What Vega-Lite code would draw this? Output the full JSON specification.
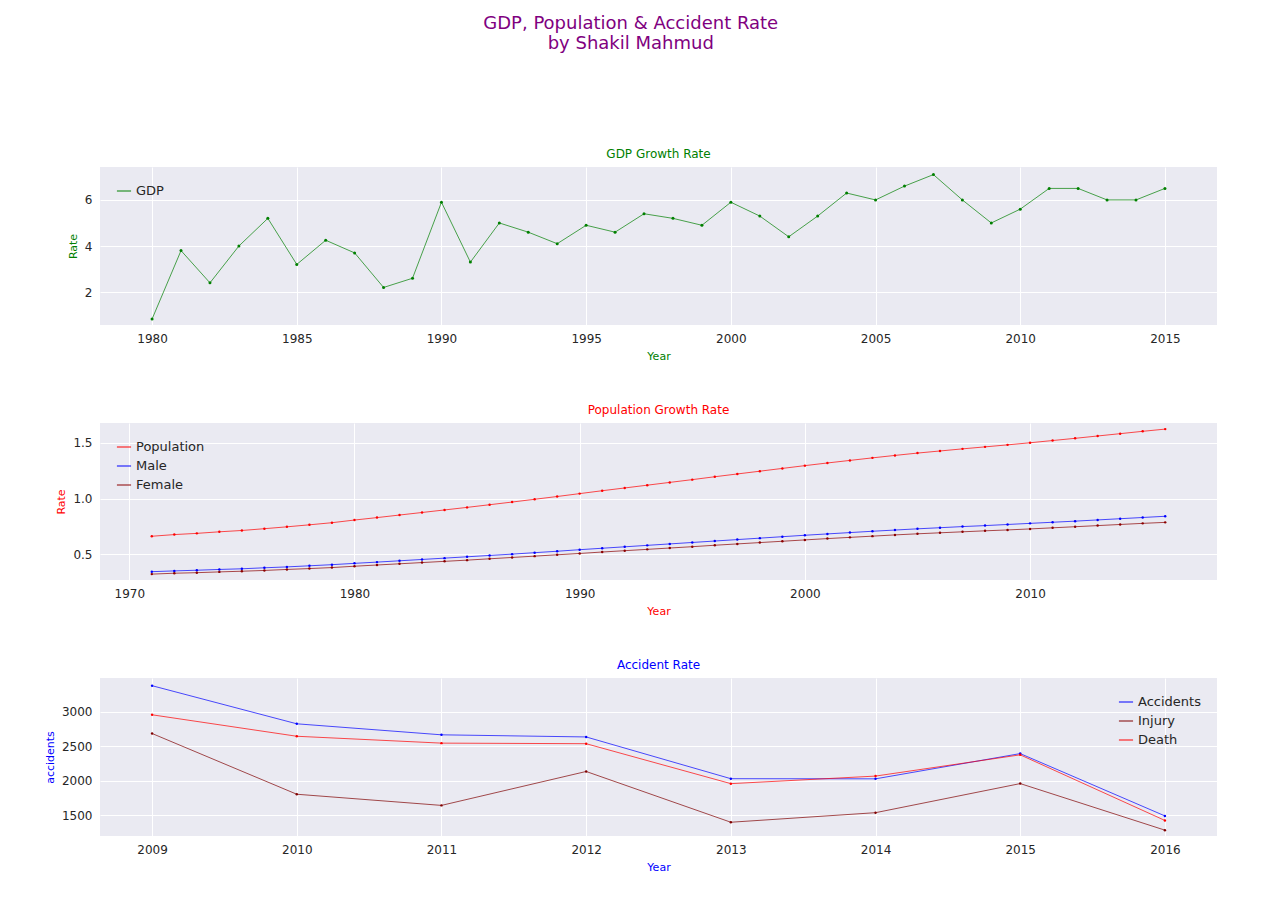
{
  "$schema": "https://vega.github.io/schema/vega-lite/v6.json",
  "padding": {"left": 44, "top": 15, "right": 60, "bottom": 10},
  "background": "white",
  "title": {"text": ["GDP, Population & Accident Rate", "by Shakil Mahmud"], "color": "purple", "fontSize": 18, "fontWeight": "normal", "font": "DejaVu Sans", "offset": 95, "anchor": "middle"},
  "datasets": {
    "gdp": [
      {"year": 1980, "rate": 0.83}, {"year": 1981, "rate": 3.8}, {"year": 1982, "rate": 2.4}, {"year": 1983, "rate": 4.0},
      {"year": 1984, "rate": 5.2}, {"year": 1985, "rate": 3.2}, {"year": 1986, "rate": 4.25}, {"year": 1987, "rate": 3.7},
      {"year": 1988, "rate": 2.2}, {"year": 1989, "rate": 2.6}, {"year": 1990, "rate": 5.9}, {"year": 1991, "rate": 3.3},
      {"year": 1992, "rate": 5.0}, {"year": 1993, "rate": 4.6}, {"year": 1994, "rate": 4.1}, {"year": 1995, "rate": 4.9},
      {"year": 1996, "rate": 4.6}, {"year": 1997, "rate": 5.4}, {"year": 1998, "rate": 5.2}, {"year": 1999, "rate": 4.9},
      {"year": 2000, "rate": 5.9}, {"year": 2001, "rate": 5.3}, {"year": 2002, "rate": 4.4}, {"year": 2003, "rate": 5.3},
      {"year": 2004, "rate": 6.3}, {"year": 2005, "rate": 6.0}, {"year": 2006, "rate": 6.6}, {"year": 2007, "rate": 7.1},
      {"year": 2008, "rate": 6.0}, {"year": 2009, "rate": 5.0}, {"year": 2010, "rate": 5.6}, {"year": 2011, "rate": 6.5},
      {"year": 2012, "rate": 6.5}, {"year": 2013, "rate": 6.0}, {"year": 2014, "rate": 6.0}, {"year": 2015, "rate": 6.5}
    ],
    "pop": [
      {"year": 1971, "Population": 66.0, "Male": 34.1, "Female": 31.9},
      {"year": 1972, "Population": 67.5, "Male": 34.8, "Female": 32.7},
      {"year": 1973, "Population": 68.6, "Male": 35.4, "Female": 33.2},
      {"year": 1974, "Population": 70.0, "Male": 36.1, "Female": 33.9},
      {"year": 1975, "Population": 71.2, "Male": 36.7, "Female": 34.5},
      {"year": 1976, "Population": 72.8, "Male": 37.6, "Female": 35.2},
      {"year": 1977, "Population": 74.5, "Male": 38.4, "Female": 36.1},
      {"year": 1978, "Population": 76.3, "Male": 39.4, "Female": 36.9},
      {"year": 1979, "Population": 78.2, "Male": 40.4, "Female": 37.8},
      {"year": 1980, "Population": 80.6, "Male": 41.6, "Female": 39.0},
      {"year": 1981, "Population": 82.8, "Male": 42.7, "Female": 40.1},
      {"year": 1982, "Population": 85.1, "Male": 43.9, "Female": 41.2},
      {"year": 1983, "Population": 87.4, "Male": 45.1, "Female": 42.3},
      {"year": 1984, "Population": 89.7, "Male": 46.3, "Female": 43.4},
      {"year": 1985, "Population": 92.0, "Male": 47.5, "Female": 44.5},
      {"year": 1986, "Population": 94.4, "Male": 48.7, "Female": 45.7},
      {"year": 1987, "Population": 96.8, "Male": 49.9, "Female": 46.9},
      {"year": 1988, "Population": 99.3, "Male": 51.2, "Female": 48.1},
      {"year": 1989, "Population": 101.8, "Male": 52.5, "Female": 49.3},
      {"year": 1990, "Population": 104.4, "Male": 53.9, "Female": 50.5},
      {"year": 1991, "Population": 107.0, "Male": 55.2, "Female": 51.8},
      {"year": 1992, "Population": 109.5, "Male": 56.5, "Female": 53.0},
      {"year": 1993, "Population": 112.0, "Male": 57.8, "Female": 54.2},
      {"year": 1994, "Population": 114.5, "Male": 59.1, "Female": 55.4},
      {"year": 1995, "Population": 117.0, "Male": 60.4, "Female": 56.6},
      {"year": 1996, "Population": 119.6, "Male": 61.7, "Female": 57.9},
      {"year": 1997, "Population": 122.1, "Male": 63.0, "Female": 59.1},
      {"year": 1998, "Population": 124.6, "Male": 64.3, "Female": 60.3},
      {"year": 1999, "Population": 127.1, "Male": 65.6, "Female": 61.5},
      {"year": 2000, "Population": 129.6, "Male": 66.9, "Female": 62.7},
      {"year": 2001, "Population": 132.0, "Male": 68.1, "Female": 63.9},
      {"year": 2002, "Population": 134.3, "Male": 69.3, "Female": 65.0},
      {"year": 2003, "Population": 136.6, "Male": 70.5, "Female": 66.1},
      {"year": 2004, "Population": 138.8, "Male": 71.6, "Female": 67.2},
      {"year": 2005, "Population": 140.9, "Male": 72.7, "Female": 68.2},
      {"year": 2006, "Population": 142.8, "Male": 73.7, "Female": 69.1},
      {"year": 2007, "Population": 144.7, "Male": 74.7, "Female": 70.0},
      {"year": 2008, "Population": 146.5, "Male": 75.6, "Female": 70.9},
      {"year": 2009, "Population": 148.3, "Male": 76.6, "Female": 71.7},
      {"year": 2010, "Population": 150.2, "Male": 77.6, "Female": 72.6},
      {"year": 2011, "Population": 152.2, "Male": 78.6, "Female": 73.6},
      {"year": 2012, "Population": 154.2, "Male": 79.6, "Female": 74.6},
      {"year": 2013, "Population": 156.3, "Male": 80.7, "Female": 75.6},
      {"year": 2014, "Population": 158.4, "Male": 81.8, "Female": 76.6},
      {"year": 2015, "Population": 160.5, "Male": 82.9, "Female": 77.6},
      {"year": 2016, "Population": 162.5, "Male": 84.0, "Female": 78.5}
    ],
    "acc": [
      {"year": 2009, "Accidents": 3381, "Injury": 2686, "Death": 2958},
      {"year": 2010, "Accidents": 2827, "Injury": 1803, "Death": 2646},
      {"year": 2011, "Accidents": 2667, "Injury": 1641, "Death": 2546},
      {"year": 2012, "Accidents": 2636, "Injury": 2134, "Death": 2538},
      {"year": 2013, "Accidents": 2029, "Injury": 1396, "Death": 1957},
      {"year": 2014, "Accidents": 2027, "Injury": 1535, "Death": 2067},
      {"year": 2015, "Accidents": 2394, "Injury": 1958, "Death": 2376},
      {"year": 2016, "Accidents": 1488, "Injury": 1281, "Death": 1422}
    ]
  },
  "vconcat": [
    {
      "title": {"text": "GDP Growth Rate", "color": "green"},
      "width": 1117, "height": 158,
      "data": {"name": "gdp"},
      "transform": [{"calculate": "'GDP'", "as": "series"}],
      "mark": {"type": "line", "strokeWidth": 0.7, "point": {"size": 9, "filled": true}},
      "encoding": {
        "x": {"field": "year", "type": "quantitative", "scale": {"domain": [1978.2, 2016.8], "nice": false, "zero": false}, "axis": {"values": [1980, 1985, 1990, 1995, 2000, 2005, 2010, 2015], "format": "d", "title": "Year", "titleColor": "green"}},
        "y": {"field": "rate", "type": "quantitative", "scale": {"domain": [0.57, 7.43], "nice": false}, "axis": {"values": [2, 4, 6], "title": "Rate", "titleColor": "green"}},
        "color": {"field": "series", "type": "nominal", "scale": {"range": ["green"]}, "legend": {"orient": "top-left", "title": null}}
      }
    },
    {
      "title": {"text": "Population Growth Rate", "color": "red"},
      "width": 1117, "height": 157,
      "data": {"name": "pop"},
      "transform": [{"fold": ["Population", "Male", "Female"], "as": ["series", "value"]}],
      "mark": {"type": "line", "strokeWidth": 0.7, "point": {"size": 6, "filled": true}},
      "encoding": {
        "x": {"field": "year", "type": "quantitative", "scale": {"domain": [1968.7, 2018.3], "nice": false, "zero": false}, "axis": {"values": [1970, 1980, 1990, 2000, 2010], "format": "d", "title": "Year", "titleColor": "red"}},
        "y": {"field": "value", "type": "quantitative", "scale": {"domain": [26.6, 168], "nice": false}, "axis": {"values": [50, 100, 150], "labelExpr": "format(datum.value / 100, '.1f')", "title": "Rate", "titleColor": "red"}},
        "color": {"field": "series", "type": "nominal", "sort": ["Population", "Male", "Female"], "scale": {"domain": ["Population", "Male", "Female"], "range": ["red", "blue", "#8B0000"]}, "legend": {"orient": "top-left", "title": null}}
      }
    },
    {
      "title": {"text": "Accident Rate", "color": "blue"},
      "width": 1117, "height": 158,
      "data": {"name": "acc"},
      "transform": [{"fold": ["Accidents", "Injury", "Death"], "as": ["series", "value"]}],
      "mark": {"type": "line", "strokeWidth": 0.7, "point": {"size": 6, "filled": true}},
      "encoding": {
        "x": {"field": "year", "type": "quantitative", "scale": {"domain": [2008.64, 2016.36], "nice": false, "zero": false}, "axis": {"values": [2009, 2010, 2011, 2012, 2013, 2014, 2015, 2016], "format": "d", "title": "Year", "titleColor": "blue"}},
        "y": {"field": "value", "type": "quantitative", "scale": {"domain": [1196, 3493], "nice": false, "zero": false}, "axis": {"values": [1500, 2000, 2500, 3000], "format": "d", "title": "accidents", "titleColor": "blue"}},
        "color": {"field": "series", "type": "nominal", "sort": ["Accidents", "Injury", "Death"], "scale": {"domain": ["Accidents", "Injury", "Death"], "range": ["blue", "#800000", "red"]}, "legend": {"orient": "top-right", "title": null}}
      }
    }
  ],
  "spacing": 43,
  "resolve": {"scale": {"color": "independent"}, "legend": {"color": "independent"}},
  "config": {
    "font": "DejaVu Sans",
    "view": {"fill": "#EAEAF2", "stroke": null},
    "title": {"fontSize": 12, "fontWeight": "normal", "offset": 6},
    "axis": {"grid": true, "gridColor": "white", "gridWidth": 1, "domain": false, "ticks": false, "labelColor": "#262626", "labelFontSize": 12, "labelPadding": 8, "titleFontSize": 11, "titleFontWeight": "normal", "titlePadding": 6},
    "legend": {"labelFontSize": 13, "labelColor": "#262626", "symbolType": "stroke", "symbolStrokeWidth": 1, "symbolSize": 200, "rowPadding": 4, "padding": 8, "offset": 8}
  }
}
